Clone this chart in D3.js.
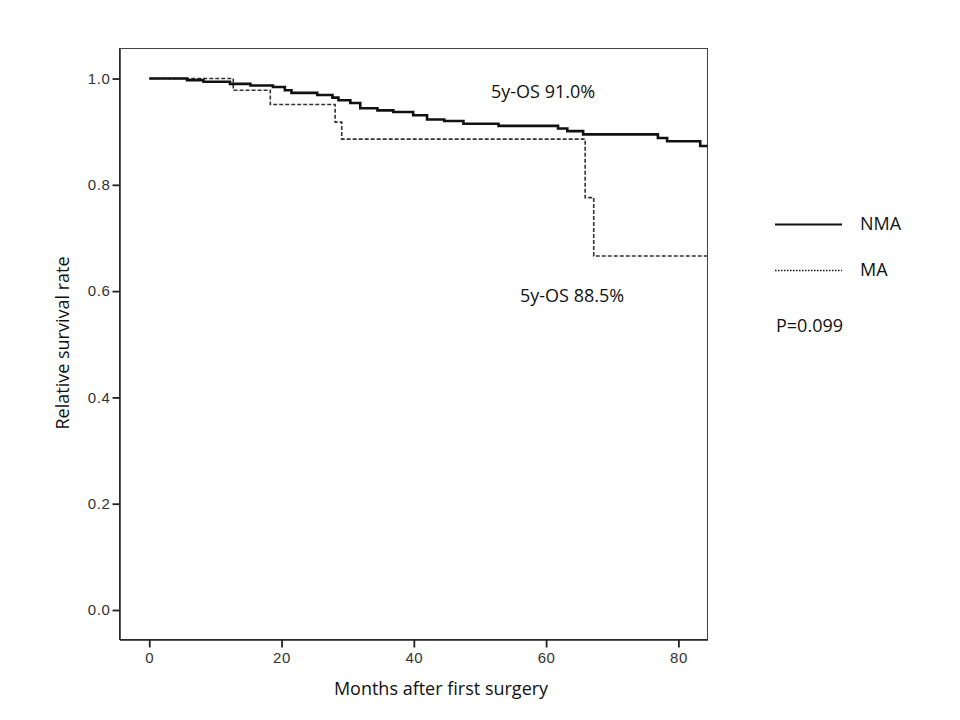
<!DOCTYPE html>
<html>
<head>
<meta charset="utf-8">
<script src="https://cdn.jsdelivr.net/npm/d3@7"></script>
<style>
  body { margin: 0; background: #fff; }
  svg { display: block; }
</style>
</head>
<body>
<div id="chart"></div>
<script>
// Kaplan-Meier steps (months, survival after step)
const nmaMonths = [0, 5.7, 8.2, 12.2, 15.3, 18.7, 20.5, 21.5, 25.4, 27.7, 28.6, 30.4, 31.9, 34.5, 36.9, 39.9, 42.0, 44.6, 47.5, 52.8, 61.8, 63.2, 65.6, 76.9, 78.3, 83.3, 84.4];
const nmaSurv   = [1.0, 0.997, 0.994, 0.990, 0.987, 0.984, 0.978, 0.973, 0.969, 0.964, 0.959, 0.954, 0.944, 0.940, 0.937, 0.931, 0.923, 0.920, 0.915, 0.911, 0.906, 0.901, 0.895, 0.888, 0.882, 0.873, 0.873];
const maMonths  = [0, 12.7, 18.3, 28.1, 29.1, 65.9, 67.2, 84.4];
const maSurv    = [1.0, 0.978, 0.951, 0.918, 0.886, 0.776, 0.666, 0.666];

const xTicks = [0, 20, 40, 60, 80];
const yTicks = [0.0, 0.2, 0.4, 0.6, 0.8, 1.0];

const legendLabels = ["NMA", "MA"];
const osLabels = ["5y-OS 91.0%", "5y-OS 88.5%"];
const pLabel = "P=0.099";

const width = 960, height = 720;
const margin = { left: 119.5, top: 48.5, right: 252.5, bottom: 80.5 };

const svg = d3.select('#chart')
  .append('svg')
  .attr('width', width)
  .attr('height', height);

const x = d3.scaleLinear()
  .domain([-4.5, 84.4])
  .range([margin.left, width - margin.right]);

const y = d3.scaleLinear()
  .domain([-0.0555, 1.0565])
  .range([height - margin.bottom, margin.top]);

// frame
svg.append('rect')
  .attr('x', margin.left)
  .attr('y', margin.top)
  .attr('width', width - margin.right - margin.left)
  .attr('height', height - margin.bottom - margin.top)
  .attr('fill', 'none')
  .attr('stroke', '#444')
  .attr('stroke-width', 1);

// axes
const xAxis = svg.append('g')
  .attr('transform', `translate(0,${height - margin.bottom})`)
  .call(d3.axisBottom(x).tickValues(xTicks).tickFormat(d3.format('d')).tickSize(8).tickSizeOuter(0));

const yAxis = svg.append('g')
  .attr('transform', `translate(${margin.left},0)`)
  .call(d3.axisLeft(y).tickValues(yTicks).tickFormat(d3.format('.1f')).tickSize(7).tickSizeOuter(0));

[xAxis, yAxis].forEach(g => {
  g.attr('font-size', null).attr('font-family', null);
  g.select('.domain').attr('stroke', '#222').attr('stroke-width', 1.5);
  g.selectAll('.tick line').attr('stroke', '#222').attr('stroke-width', 1.8);
  g.selectAll('.tick text')
    .attr('fill', '#333')
    .style('font-family', '"Liberation Sans", Arial, sans-serif')
    .style('font-size', '15px')
    .style('letter-spacing', '0.6px');
});
xAxis.selectAll('.tick text').attr('y', 11).attr('dy', '0.8em');
yAxis.selectAll('.tick text').attr('x', -9);

const textStyle = sel => sel
  .style('font-family', '"Open Sans", sans-serif')
  .style('font-size', '18px')
  .attr('fill', '#111');

// axis titles
svg.append('text')
  .attr('x', 441)
  .attr('y', 695)
  .attr('text-anchor', 'middle')
  .call(textStyle)
  .text('Months after first surgery');

svg.append('text')
  .attr('transform', 'translate(69,343) rotate(-90)')
  .attr('text-anchor', 'middle')
  .call(textStyle)
  .text('Relative survival rate');

// curves
const line = d3.line()
  .x(d => x(d[0]))
  .y(d => y(d[1]))
  .curve(d3.curveStepAfter);

svg.append('path')
  .datum(d3.zip(maMonths, maSurv))
  .attr('d', line)
  .attr('fill', 'none')
  .attr('stroke', '#333')
  .attr('stroke-width', 1.6)
  .attr('stroke-dasharray', '4,2');

svg.append('path')
  .datum(d3.zip(nmaMonths, nmaSurv))
  .attr('d', line)
  .attr('fill', 'none')
  .attr('stroke', '#111')
  .attr('stroke-width', 2.6);

// annotations
svg.append('text').attr('x', 491).attr('y', 98).call(textStyle).text(osLabels[0]);
svg.append('text').attr('x', 520).attr('y', 302).call(textStyle).text(osLabels[1]);

// legend
const legend = svg.append('g');
const legendY = [224.5, 270.5];
legendLabels.forEach((lab, i) => {
  legend.append('line')
    .attr('x1', 775).attr('x2', 842)
    .attr('y1', legendY[i]).attr('y2', legendY[i])
    .attr('stroke', '#111')
    .attr('stroke-width', i === 0 ? 2 : 1.6)
    .attr('stroke-dasharray', i === 0 ? null : '1.5,1.5');
  legend.append('text')
    .attr('x', 860).attr('y', legendY[i] + 5)
    .call(textStyle)
    .text(lab);
});
svg.append('text').attr('x', 776).attr('y', 332).call(textStyle).text(pLabel);
</script>
</body>
</html>
